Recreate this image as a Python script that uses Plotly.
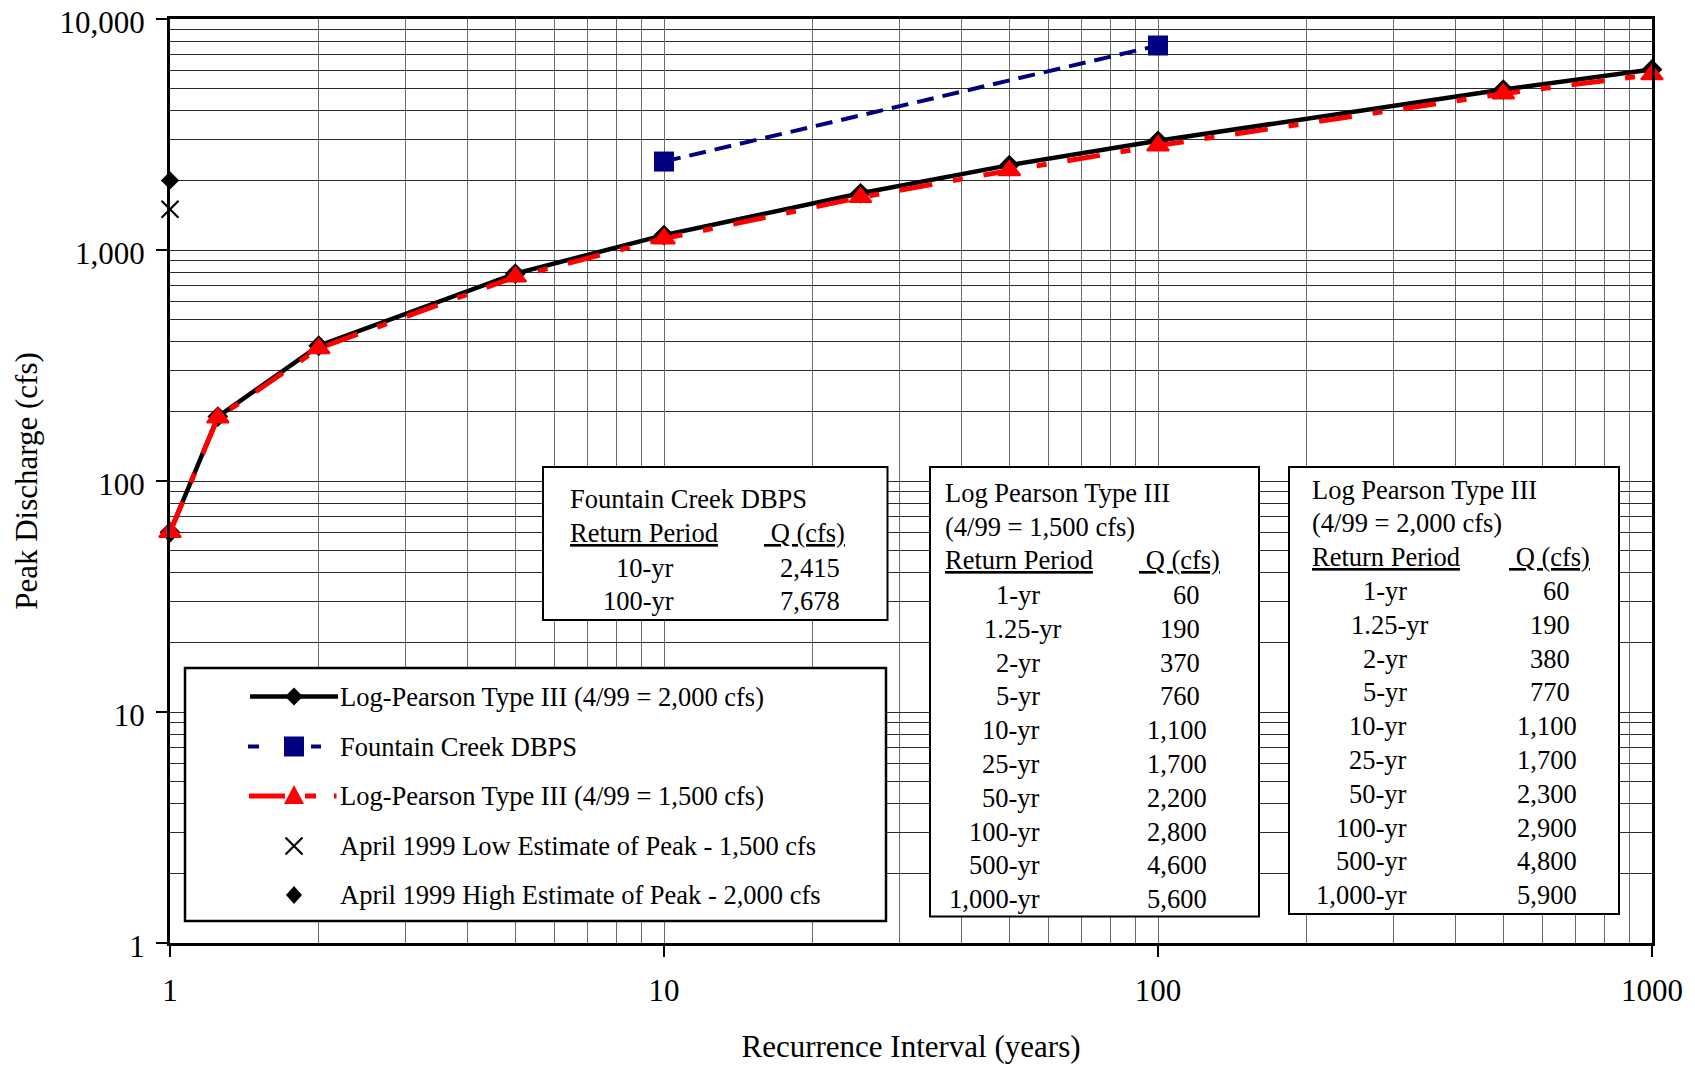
import plotly.graph_objects as go

# ---------------- data ----------------
rp_years = [1, 1.25, 2, 5, 10, 25, 50, 100, 500, 1000]
rp_labels = ["1-yr", "1.25-yr", "2-yr", "5-yr", "10-yr", "25-yr", "50-yr", "100-yr", "500-yr", "1,000-yr"]

# plotted curves
q_lp2000 = [60, 190, 385, 790, 1160, 1760, 2330, 2970, 4950, 6050]
q_lp1500 = [60, 188, 375, 765, 1120, 1690, 2210, 2830, 4750, 5750]

# tabulated values (text boxes)
tab_lp1500 = ["60", "190", "370", "760", "1,100", "1,700", "2,200", "2,800", "4,600", "5,600"]
tab_lp2000 = ["60", "190", "380", "770", "1,100", "1,700", "2,300", "2,900", "4,800", "5,900"]

dbps_years = [10, 100]
dbps_labels = ["10-yr", "100-yr"]
q_dbps = [2415, 7678]
tab_dbps = ["2,415", "7,678"]

april_x = [1]
april_low = [1500]
april_high = [2000]

x_tickvals = [1, 10, 100, 1000]
x_ticktext = ["1", "10", "100", "1000"]
y_tickvals = [1, 10, 100, 1000, 10000]
y_ticktext = ["1", "10", "100", "1,000", "10,000"]

series_names = [
    "Log-Pearson Type III (4/99 = 2,000 cfs)",
    "Fountain Creek DBPS",
    "Log-Pearson Type III (4/99 = 1,500 cfs)",
    "April 1999 Low Estimate of Peak - 1,500 cfs",
    "April 1999 High Estimate of Peak - 2,000 cfs",
]

# ---------------- layout constants ----------------
OFF = 8                      # page body margin
W, H = 1695 - OFF, 1066 - OFF
L, R, T, B = 170, 1652, 19, 943   # plot area in window pixels
FONT = "Liberation Serif"
TXT = 26.5
BLACK, BLUE, RED = "#000000", "#000080", "#FF0000"
GRID_H = "#2a2a2a"
GRID_V = "#6a6a6a"


def px(x):
    return (x - L) / (R - L)


def py(y):
    return (B - y) / (B - T)


minor_x = [m * d for d in (1, 10, 100) for m in range(2, 10)]
minor_y = [m * d for d in (1, 10, 100, 1000) for m in range(2, 10)]

fig = go.Figure()

fig.add_trace(go.Scatter(
    x=rp_years, y=q_lp2000, mode="lines+markers", name=series_names[0],
    line=dict(color=BLACK, width=4.5),
    marker=dict(symbol="diamond", size=16, color=BLACK),
    cliponaxis=False, showlegend=False))
fig.add_trace(go.Scatter(
    x=dbps_years, y=q_dbps, mode="lines+markers", name=series_names[1],
    line=dict(color=BLUE, width=4, dash="17px,9px"),
    marker=dict(symbol="square", size=20, color=BLUE),
    cliponaxis=False, showlegend=False))
fig.add_trace(go.Scatter(
    x=rp_years, y=q_lp1500, mode="lines+markers", name=series_names[2],
    line=dict(color=RED, width=5, dash="33px,21px,10px,21px"),
    marker=dict(symbol="triangle-up", size=19, color=RED, line=dict(color=RED, width=2)),
    cliponaxis=False, showlegend=False))
fig.add_trace(go.Scatter(
    x=april_x, y=april_low, mode="markers", name=series_names[3],
    marker=dict(symbol="x-thin", size=17, color=BLACK, line=dict(color=BLACK, width=2.2)),
    cliponaxis=False, showlegend=False))
fig.add_trace(go.Scatter(
    x=april_x, y=april_high, mode="markers", name=series_names[4],
    marker=dict(symbol="diamond", size=14, color=BLACK),
    cliponaxis=False, showlegend=False))

shapes = []
annots = []


def box(x0, y0, x1, y1, w=2):
    shapes.append(dict(type="rect", xref="paper", yref="paper", layer="above",
                       x0=px(x0), x1=px(x1), y0=py(y1), y1=py(y0),
                       fillcolor="white", line=dict(color=BLACK, width=w)))


def text(x, y, s, anchor="left", size=TXT):
    annots.append(dict(xref="paper", yref="paper", x=px(x), y=py(y), text=s,
                       xanchor=anchor, yanchor="middle", showarrow=False,
                       font=dict(family=FONT, size=size, color=BLACK)))


def seg(x0, x1, y, color, width):
    shapes.append(dict(type="line", xref="paper", yref="paper", layer="above",
                       x0=px(x0), x1=px(x1), y0=py(y), y1=py(y),
                       line=dict(color=color, width=width)))


def poly(points, color, closed=True, width=0):
    d = "M " + " L ".join(f"{px(a):.6f},{py(b):.6f}" for a, b in points)
    if closed:
        d += " Z"
    shapes.append(dict(type="path", xref="paper", yref="paper", layer="above", path=d,
                       fillcolor=color if closed else None,
                       line=dict(color=color, width=width)))


NB = "\u00a0"

# ---------- legend box ----------
box(185, 668, 886, 921, w=2.5)
lx, tx = 294, 338
rows_y = [696.5, 746.5, 796, 846, 895]
# row 1: black line + diamond
seg(250, 338, rows_y[0], BLACK, 4.5)
poly([(lx, rows_y[0] - 9), (lx + 9, rows_y[0]), (lx, rows_y[0] + 9), (lx - 9, rows_y[0])], BLACK)
# row 2: blue dashed + square
seg(248, 259, rows_y[1], BLUE, 4)
seg(311, 321, rows_y[1], BLUE, 4)
poly([(lx - 10, rows_y[1] - 10), (lx + 10, rows_y[1] - 10), (lx + 10, rows_y[1] + 10), (lx - 10, rows_y[1] + 10)], BLUE)
# row 3: red dash-dot + triangle
seg(249, 285, rows_y[2], RED, 5)
seg(305, 316, rows_y[2], RED, 5)
seg(334, 336.5, rows_y[2], RED, 5)
poly([(lx, rows_y[2] - 11), (lx + 10, rows_y[2] + 8), (lx - 10, rows_y[2] + 8)], RED)
# row 4: X
poly([(lx - 8.5, rows_y[3] - 8.5), (lx + 8.5, rows_y[3] + 8.5)], BLACK, closed=False, width=2.2)
poly([(lx - 8.5, rows_y[3] + 8.5), (lx + 8.5, rows_y[3] - 8.5)], BLACK, closed=False, width=2.2)
# row 5: diamond
poly([(lx, rows_y[4] - 9), (lx + 8, rows_y[4]), (lx, rows_y[4] + 9), (lx - 8, rows_y[4])], BLACK)
for name, yy in zip(series_names, rows_y):
    text(tx, yy, name)

# ---------- table 1: Fountain Creek DBPS ----------
box(543, 467, 887.5, 620)
text(568, 499, "Fountain Creek DBPS")
text(568, 533, "<u>Return Period</u>")
text(847, 533, f"<u>{NB}Q (cfs)</u>", anchor="right")
for i, (lab, val) in enumerate(zip(dbps_labels, tab_dbps)):
    yy = 567.5 + i * 33.8
    text(676, yy, lab, anchor="right")
    text(842, yy, val, anchor="right")


# ---------- tables 2 & 3: Log Pearson ----------
def lp_table(x0, x1, y0, y1, sub, values, lab_r, val_r, row0, step, dy, pad):
    box(x0, y0, x1, y1)
    text(x0 + pad, 493 + dy, "Log Pearson Type III")
    text(x0 + pad, 526.5 + dy, sub)
    text(x0 + pad, 560 + dy, "<u>Return Period</u>")
    text(val_r + 20, 560 + dy, f"<u>{NB}Q (cfs)</u>", anchor="right")
    for i, (lab, val) in enumerate(zip(rp_labels, values)):
        yy = row0 + i * step
        shift = 21 if "." in lab else 0
        vshift = 7 if "," in val else 0
        text(lab_r + shift, yy, lab, anchor="right")
        text(val_r + vshift, yy, val, anchor="right")


lp_table(930, 1259, 467, 916.5, "(4/99 = 1,500 cfs)", tab_lp1500, 1042, 1202, 595, 33.8, 0, 13)
lp_table(1289, 1619, 467, 914, "(4/99 = 2,000 cfs)", tab_lp2000, 1409, 1572, 591, 33.8, -3.5, 21)

axis_common = dict(
    type="log", showline=True, linecolor=BLACK, linewidth=3, mirror=True,
    ticks="outside", ticklen=11, tickwidth=1.5, tickcolor=BLACK,
    showgrid=True, gridwidth=1, zeroline=False, ticklabeloverflow="allow",
    tickfont=dict(family=FONT, size=31, color=BLACK),
)

fig.update_layout(
    width=W, height=H,
    margin=dict(l=L - OFF, r=W - (R - OFF), t=T - OFF, b=H - (B - OFF), autoexpand=False),
    paper_bgcolor="white", plot_bgcolor="white",
    font=dict(family=FONT, color=BLACK),
    xaxis=dict(axis_common, range=[0, 3], tickmode="array", tickvals=x_tickvals, ticktext=x_ticktext,
               gridcolor=GRID_V,
               minor=dict(tickmode="array", tickvals=minor_x, showgrid=True, gridcolor=GRID_V, gridwidth=1, ticks=""),
               ticklabelstandoff=7,
               title=dict(text="Recurrence Interval (years)", font=dict(family=FONT, size=31, color=BLACK), standoff=29)),
    yaxis=dict(axis_common, range=[0, 4], tickmode="array", tickvals=y_tickvals, ticktext=y_ticktext,
               gridcolor=GRID_H,
               minor=dict(tickmode="array", tickvals=minor_y, showgrid=True, gridcolor=GRID_H, gridwidth=1, ticks=""),
               ticklabelstandoff=5, ticklabelshift=3,
               title=dict(text="Peak Discharge (cfs)", font=dict(family=FONT, size=31, color=BLACK), standoff=13)),
    shapes=shapes, annotations=annots, showlegend=False,
)

fig.write_html("out.html")
